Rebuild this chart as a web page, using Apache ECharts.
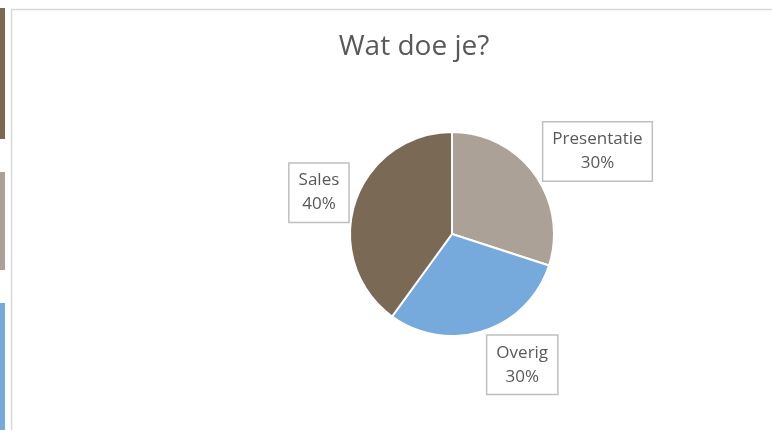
<!DOCTYPE html>
<html>
<head>
<meta charset="utf-8">
<script src="https://cdn.jsdelivr.net/npm/echarts@6/dist/echarts.min.js"></script>
<style>
html,body{margin:0;padding:0;background:#fff;}
#main{width:772px;height:430px;}
</style>
</head>
<body>
<div id="main"></div>
<script>
var titleText = 'Wat doe je?';
var categories = ['Presentatie', 'Overig', 'Sales'];
var values = [30, 30, 40];
var colors = ['#aba196', '#77aadc', '#7a6a55'];

var chart = echarts.init(document.getElementById('main'), null, {renderer: 'canvas'});
var labelShift = [[-1, -19], [-3, 28], [4, -8]];
chart.setOption({
  animation: false,
  backgroundColor: '#ffffff',
  title: {
    text: titleText,
    left: 409,
    top: 28,
    textAlign: 'center',
    textStyle: {fontFamily: 'Open Sans', fontSize: 28, fontWeight: 'normal', color: '#595959'}
  },
  graphic: [
    {type: 'rect', shape: {x: 0, y: 8, width: 5, height: 131}, style: {fill: '#7a6a55'}, silent: true},
    {type: 'rect', shape: {x: 0, y: 172, width: 5, height: 98}, style: {fill: '#aba196'}, silent: true},
    {type: 'rect', shape: {x: 0, y: 303, width: 5, height: 130}, style: {fill: '#77aadc'}, silent: true},
    {type: 'rect', shape: {x: 11.5, y: 9.5, width: 800, height: 450}, style: {fill: 'none', stroke: '#d9d9d9', lineWidth: 1.5}, silent: true}
  ],
  series: [{
    type: 'pie',
    center: [452, 234],
    radius: 102,
    startAngle: 90,
    clockwise: true,
    data: categories.map(function (c, i) {
      return {name: c, value: values[i], itemStyle: {color: colors[i]}};
    }),
    itemStyle: {borderColor: '#ffffff', borderWidth: 2},
    label: {
      show: true,
      position: 'outside',
      formatter: '{t|{b}}\n{t|{d}%}',
      rich: {t: {fontFamily: 'Open Sans', fontSize: 17, lineHeight: 24, color: '#595959', align: 'center'}},
      backgroundColor: '#ffffff',
      borderColor: '#bfbfbf',
      borderWidth: 1.5,
      padding: [5, 9, 5, 9]
    },
    labelLine: {show: false, length: 6, length2: 0},
    labelLayout: function (p) {
      var s = labelShift[p.dataIndex];
      return {dx: s[0], dy: s[1]};
    },
    emphasis: {disabled: true}
  }]
});
</script>
</body>
</html>
